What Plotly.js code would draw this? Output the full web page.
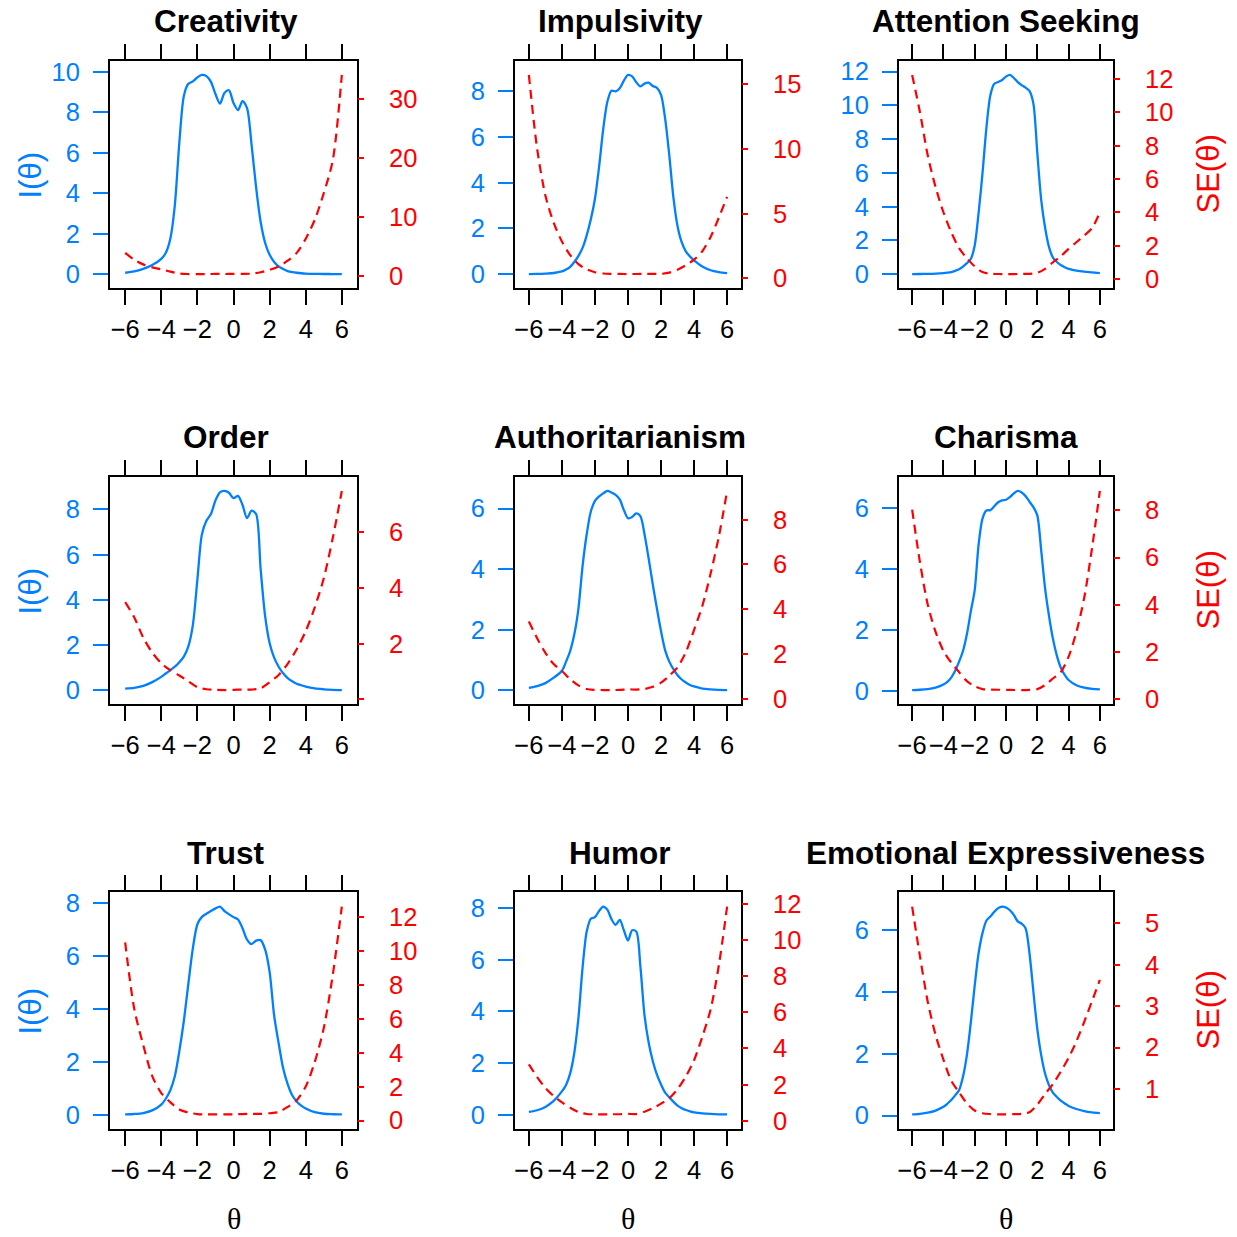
<!DOCTYPE html>
<html>
<head>
<meta charset="utf-8">
<script src="https://cdn.plot.ly/plotly-3.0.1.min.js"></script>
<style>html,body{margin:0;padding:0;background:#fff}</style>
</head>
<body>
<div id="chart" style="width:1237px;height:1237px"></div>
<script>
// Item information I(θ) and standard error SE(θ) for nine personality scales.

// θ grid for the information curves (finer near the centre)
const thetaInfo = [-6,-5.5,-5,-4.5,-4,-3.75,-3.5,-3.25,-3,-2.75,-2.5,-2.25,-2,-1.75,-1.5,-1.25,-1,-0.75,-0.5,-0.25,0,0.25,0.5,0.75,1,1.25,1.5,1.75,2,2.25,2.5,2.75,3,3.25,3.5,3.75,4,4.5,5,5.5,6];
// θ grid for the standard-error curves
const thetaSE = [-6,-5.5,-5,-4.5,-4,-3.5,-3,-2.5,-2,-1.5,-1,-0.5,0,0.5,1,1.5,2,2.5,3,3.5,4,4.5,5,5.5,6];

const creativityInfo = [0.066,0.13,0.26,0.45,0.75,1.05,1.75,3.4,6.5,8.8,9.4,9.52,9.72,9.84,9.78,9.5,8.9,8.42,8.95,9.08,8.45,8.1,8.55,8.2,6.4,4.3,2.6,1.55,0.95,0.6,0.38,0.25,0.15,0.1,0.065,0.04,0.025,0.011,0.005,0.0026,0.00087];
const creativitySE = [3.9,2.75,1.96,1.45,1.12,0.74,0.4,0.326,0.321,0.32,0.335,0.334,0.344,0.343,0.395,0.62,1.03,1.6,2.58,3.9,6.3,9.5,14.0,19.6,34.0];

const impulsivityInfo = [0.004,0.01,0.024,0.05,0.12,0.2,0.32,0.53,0.8,1.15,1.7,2.4,3.3,4.7,6.35,7.55,8.03,8.0,8.14,8.47,8.72,8.66,8.4,8.22,8.34,8.38,8.24,8.15,7.85,6.8,5.2,3.35,2.1,1.4,1.0,0.77,0.6,0.33,0.17,0.09,0.045];
const impulsivitySE = [15.7,10.0,6.4,4.3,2.85,1.8,1.1,0.7,0.48,0.38,0.353,0.35,0.339,0.345,0.346,0.348,0.357,0.45,0.68,1.02,1.45,2.1,3.2,4.7,6.3];

const attentionInfo = [0.0067,0.01,0.018,0.033,0.0625,0.09,0.128,0.2,0.29,0.45,0.65,0.9,1.7,3.65,6.0,8.7,10.6,11.28,11.38,11.5,11.7,11.8,11.62,11.38,11.2,11.05,10.85,10.1,7.2,4.4,2.75,1.6,0.98,0.72,0.54,0.41,0.31,0.21,0.148,0.107,0.0625];
const attentionSE = [12.24,10.0,7.4,5.5,4.0,2.8,1.85,1.24,0.75,0.41,0.307,0.296,0.292,0.293,0.299,0.304,0.37,0.6,1.0,1.36,1.8,2.2,2.6,3.05,4.0];

const orderInfo = [0.082,0.115,0.2,0.37,0.6,0.75,0.9,1.05,1.25,1.5,1.95,2.9,4.9,6.9,7.5,7.8,8.4,8.76,8.82,8.74,8.5,8.6,8.2,7.62,7.95,7.8,5.4,3.3,2.1,1.45,1.05,0.76,0.55,0.41,0.3,0.23,0.17,0.089,0.052,0.03,0.018];
const orderSE = [3.49,2.95,2.22,1.68,1.3,1.05,0.86,0.65,0.44,0.365,0.345,0.337,0.344,0.355,0.355,0.4,0.62,0.88,1.28,1.8,2.45,3.3,4.35,5.8,7.48];

const authoritarianismInfo = [0.084,0.14,0.24,0.42,0.65,0.95,1.3,1.85,2.7,4.1,5.15,5.9,6.25,6.4,6.5,6.58,6.53,6.45,6.3,5.95,5.68,5.72,5.84,5.75,5.15,4.35,3.5,2.7,1.95,1.32,0.95,0.7,0.5,0.36,0.26,0.18,0.13,0.058,0.032,0.019,0.0116];
const authoritarianismSE = [3.45,2.7,2.05,1.55,1.24,0.88,0.6,0.44,0.4,0.392,0.391,0.398,0.42,0.414,0.44,0.535,0.72,1.03,1.41,2.08,3.08,4.15,5.59,7.25,9.28];

const charismaInfo = [0.02,0.03,0.05,0.1,0.2,0.29,0.43,0.65,0.95,1.3,1.85,2.6,3.3,4.8,5.65,5.91,5.92,6.05,6.18,6.24,6.26,6.35,6.47,6.55,6.5,6.38,6.2,6.02,5.75,4.6,3.35,2.45,1.7,1.15,0.76,0.52,0.35,0.18,0.1,0.06,0.04];
const charismaSE = [8.03,5.8,4.0,2.85,2.05,1.55,1.15,0.77,0.55,0.43,0.41,0.403,0.4,0.393,0.39,0.402,0.43,0.6,0.88,1.15,1.8,2.85,4.3,6.4,8.82];

const trustInfo = [0.0091,0.024,0.06,0.16,0.38,0.6,0.92,1.45,2.4,3.55,4.95,6.3,7.2,7.48,7.6,7.7,7.8,7.87,7.7,7.58,7.47,7.38,7.05,6.62,6.45,6.58,6.6,6.25,5.4,3.75,2.7,1.75,1.15,0.73,0.5,0.34,0.23,0.09,0.033,0.014,0.0063];
const trustSE = [10.5,6.6,4.45,2.62,1.62,1.08,0.65,0.47,0.38,0.364,0.358,0.36,0.366,0.378,0.393,0.39,0.43,0.5,0.8,1.2,2.0,3.45,5.45,8.6,12.61];

const humorInfo = [0.103,0.17,0.3,0.53,0.9,1.15,1.6,2.4,3.75,5.7,7.1,7.6,7.66,7.9,8.07,7.95,7.58,7.36,7.55,7.15,6.75,7.15,7.1,5.75,3.85,2.8,2.08,1.55,1.17,0.85,0.67,0.5,0.35,0.25,0.18,0.13,0.09,0.046,0.026,0.0135,0.0071];
const humorSE = [3.12,2.42,1.82,1.37,1.02,0.72,0.48,0.375,0.361,0.352,0.362,0.364,0.385,0.373,0.5,0.7,0.95,1.25,1.75,2.45,3.35,4.65,6.15,8.6,11.84];

const emotionalInfo = [0.0343,0.055,0.09,0.16,0.28,0.38,0.5,0.65,0.82,1.25,1.95,3.0,4.2,5.25,5.9,6.3,6.43,6.58,6.7,6.75,6.72,6.63,6.48,6.27,6.2,6.05,5.25,4.0,2.8,1.95,1.35,0.98,0.74,0.6,0.48,0.39,0.31,0.21,0.145,0.103,0.076];
const emotionalSE = [5.4,4.2,3.1,2.3,1.71,1.2,0.92,0.65,0.48,0.415,0.395,0.388,0.386,0.393,0.403,0.44,0.62,0.88,1.12,1.42,1.75,2.15,2.62,3.12,3.63];

const panelTitles = ['Creativity','Impulsivity','Attention Seeking','Order','Authoritarianism','Charisma','Trust','Humor','Emotional Expressiveness'];
const infoSeries = [creativityInfo,impulsivityInfo,attentionInfo,orderInfo,authoritarianismInfo,charismaInfo,trustInfo,humorInfo,emotionalInfo];
const seSeries = [creativitySE,impulsivitySE,attentionSE,orderSE,authoritarianismSE,charismaSE,trustSE,humorSE,emotionalSE];
const thetaTicks = [-6,-4,-2,0,2,4,6];
const infoTickStep = [2,2,2,2,2,2,2,2,2];
const seTickStep = [10,5,2,2,2,2,2,2,1];

// ---- page geometry (pixels) ----
const W = 1237, H = 1237;
const colPx = [[110,357],[515,741],[899,1113]];
const rowPx = [[61,288],[477,704],[892,1129]];
const titleCenterX = [226,620,1005.5];
const titleMidY = [21,436.5,852.5];
const BLUE = '#0080ff', RED = '#ff0000';
const SANS = 'Liberation Sans, Arial, Helvetica, sans-serif';
const SERIF = 'Liberation Serif, Times New Roman, serif';
const TICK_SIZE = 25.5;

// lattice-style limits: data range extended by 7% on each side
function padRange(v){
  const lo = Math.min(...v), hi = Math.max(...v), p = 0.07*(hi-lo);
  return [lo-p, hi+p];
}

const traces = [];
const layout = {
  width: W, height: H,
  margin: {l:0,r:0,t:0,b:0},
  paper_bgcolor: '#fff', plot_bgcolor: '#fff',
  showlegend: false,
  font: {family: SANS, color: '#000'},
  annotations: []
};

for (let k = 0; k < 9; k++) {
  const r = Math.floor(k/3), c = k%3;
  const xName = k === 0 ? 'x' : 'x'+(k+1);
  const yInfo = k === 0 ? 'y' : 'y'+(2*k+1);
  const ySE = 'y'+(2*k+2);
  const xKey = k === 0 ? 'xaxis' : 'xaxis'+(k+1);
  const yInfoKey = k === 0 ? 'yaxis' : 'yaxis'+(2*k+1);
  const ySEKey = 'yaxis'+(2*k+2);

  traces.push({
    x: thetaInfo, y: infoSeries[k], xaxis: xName, yaxis: yInfo,
    type: 'scatter', mode: 'lines', hoverinfo: 'skip',
    line: {color: BLUE, width: 2.3, shape: 'spline', smoothing: 0.8}
  });
  traces.push({
    x: thetaSE, y: seSeries[k], xaxis: xName, yaxis: ySE,
    type: 'scatter', mode: 'lines', hoverinfo: 'skip',
    line: {color: RED, width: 2.2, dash: '9px,6px', shape: 'spline', smoothing: 0.8}
  });

  layout[xKey] = {
    domain: [colPx[c][0]/W, colPx[c][1]/W],
    anchor: yInfo,
    range: padRange(thetaInfo),
    tickmode: 'array', tickvals: thetaTicks,
    ticks: 'outside', ticklen: 15, tickwidth: 2, tickcolor: '#000',
    showline: true, linecolor: '#000', linewidth: 2, mirror: 'ticks',
    showgrid: false, zeroline: false,
    ticklabelstandoff: 2,
    tickfont: {family: SANS, size: TICK_SIZE, color: '#000'}
  };
  layout[yInfoKey] = {
    domain: [1-rowPx[r][1]/H, 1-rowPx[r][0]/H],
    anchor: xName,
    range: padRange(infoSeries[k]),
    tick0: 0, dtick: infoTickStep[k],
    ticks: 'outside', ticklen: 15, tickwidth: 2, tickcolor: BLUE,
    showline: true, linecolor: '#000', linewidth: 2, mirror: true,
    showgrid: false, zeroline: false,
    ticklabelstandoff: 8,
    tickfont: {family: SANS, size: TICK_SIZE, color: BLUE}
  };
  const seAxis = {
    overlaying: yInfo, side: 'right', anchor: xName,
    range: padRange(seSeries[k]),
    tick0: 0, dtick: seTickStep[k],
    ticks: 'outside', ticklen: 6, tickwidth: 2, tickcolor: RED,
    showline: false, showgrid: false, zeroline: false,
    ticklabelstandoff: 20,
    tickfont: {family: SANS, size: TICK_SIZE, color: RED}
  };
  if (panelTitles[k] === 'Order') {
    seAxis.tickmode = 'array';
    seAxis.tickvals = [0,2,4,6];
    seAxis.ticktext = ['','2','4','6'];
  }
  layout[ySEKey] = seAxis;

  // panel title
  layout.annotations.push({
    text: panelTitles[k], xref: 'paper', yref: 'paper',
    x: titleCenterX[c]/W, y: 1-titleMidY[r]/H,
    xanchor: 'center', yanchor: 'middle', showarrow: false,
    font: {family: SANS, size: 31.5, color: '#000', weight: 'bold'}
  });
}

// axis titles
for (let r = 0; r < 3; r++) {
  const mid = (rowPx[r][0]+rowPx[r][1])/2;
  layout.annotations.push({
    text: 'I(θ)', xref: 'paper', yref: 'paper',
    x: 30/W, y: 1-mid/H, xanchor: 'center', yanchor: 'middle',
    textangle: -90, showarrow: false,
    font: {family: SANS, size: 31, color: BLUE}
  });
  layout.annotations.push({
    text: 'SE(θ)', xref: 'paper', yref: 'paper',
    x: 1208/W, y: 1-mid/H, xanchor: 'center', yanchor: 'middle',
    textangle: -90, showarrow: false,
    font: {family: SANS, size: 31, color: RED}
  });
}
for (let c = 0; c < 3; c++) {
  layout.annotations.push({
    text: 'θ', xref: 'paper', yref: 'paper',
    x: ((colPx[c][0]+colPx[c][1])/2)/W, y: 1-1218.5/H,
    xanchor: 'center', yanchor: 'middle', showarrow: false,
    font: {family: SERIF, size: 30, color: '#000'}
  });
}

Plotly.newPlot('chart', traces, layout, {displayModeBar: false, staticPlot: true});
</script>
</body>
</html>
